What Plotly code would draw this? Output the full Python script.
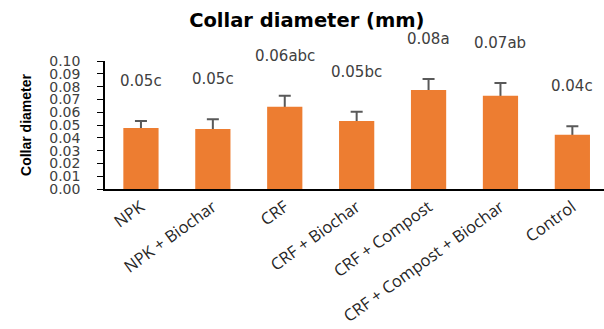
import plotly.graph_objects as go

categories = ["NPK", "NPK + Biochar", "CRF", "CRF + Biochar", "CRF + Compost",
              "CRF + Compost + Biochar", "Control"]
means = [0.0477, 0.0469, 0.0643, 0.0531, 0.0773, 0.0729, 0.0424]
errors = [0.0055, 0.0076, 0.0086, 0.0073, 0.0086, 0.0099, 0.0066]
labels = ["0.05c", "0.05c", "0.06abc", "0.05bc", "0.08a", "0.07ab", "0.04c"]
y_ticks = [0.00, 0.01, 0.02, 0.03, 0.04, 0.05, 0.06, 0.07, 0.08, 0.09, 0.10]

x_idx = list(range(len(categories)))

fig = go.Figure()
# error bars (symmetric); lower half hidden beneath the opaque bars drawn next
fig.add_trace(go.Bar(
    x=x_idx, y=means,
    marker=dict(color="rgba(0,0,0,0)", line=dict(width=0)),
    error_y=dict(type="data", array=errors, symmetric=True,
                 color="#595959", thickness=2, width=6),
    showlegend=False, hoverinfo="skip",
))
fig.add_trace(go.Bar(
    x=x_idx, y=means,
    marker=dict(color="#ED7D31", line=dict(width=0)),
    showlegend=False,
))

for i, (m, e, t) in enumerate(zip(means, errors, labels)):
    fig.add_annotation(x=i, y=m + e, text=t, showarrow=False,
                       yanchor="bottom", yshift=29,
                       font=dict(family="DejaVu Sans", size=15, color="#404040"))

fig.update_layout(
    width=604, height=329,
    margin=dict(l=105, r=0, t=61, b=140),
    paper_bgcolor="white", plot_bgcolor="white",
    barmode="overlay",
    bargap=0.51,
    title=dict(text="<b>Collar diameter (mm)</b>", x=0.508, xref="container",
               y=1 - 20 / 329, yref="container", xanchor="center", yanchor="middle",
               font=dict(family="DejaVu Sans", size=19.5, color="black")),
    xaxis=dict(
        tickmode="array", tickvals=x_idx, ticktext=categories,
        range=[-0.5, 6.44], tickangle=-36, showline=True, linecolor="black",
        linewidth=2, ticks="", showgrid=False, zeroline=False, automargin=False,
        tickfont=dict(family="Open Sans", size=16.5, color="#262626"),
    ),
    yaxis=dict(
        range=[0, 0.10], tickvals=y_ticks, tickformat=".2f",
        showline=True, linecolor="black", linewidth=1.5, ticks="outside",
        ticklen=6, tickcolor="black", showgrid=False, zeroline=False,
        ticklabelstandoff=14, automargin=False,
        tickfont=dict(family="DejaVu Sans", size=14, color="#404040"),
        title=dict(text="<b>Collar diameter</b>", standoff=14,
                   font=dict(family="Liberation Sans", size=14, color="black")),
    ),
)

fig.write_html("out.html", config={"displayModeBar": False},
               post_script="document.body.style.margin='0';document.body.style.padding='0';")
